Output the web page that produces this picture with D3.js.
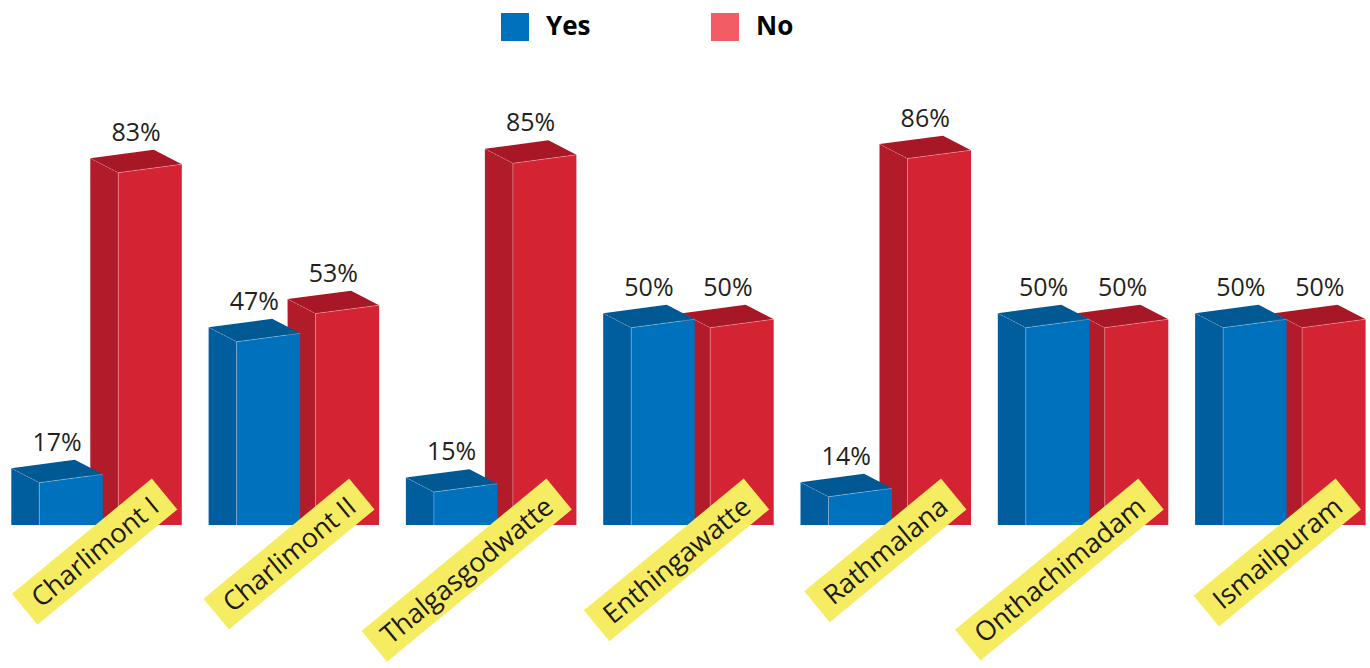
<!DOCTYPE html>
<html>
<head>
<meta charset="utf-8">
<script src="https://cdn.jsdelivr.net/npm/d3@7"></script>
<style>
  html, body { margin: 0; padding: 0; background: #ffffff; }
  svg { display: block; }
</style>
</head>
<body>
<svg id="chart" width="1370" height="668"></svg>
<script>
// Survey answers per settlement (percent of respondents)
const categories = ["Charlimont I", "Charlimont II", "Thalgasgodwatte", "Enthingawatte",
                    "Rathmalana", "Onthachimadam", "Ismailpuram"];
const seriesNames = ["Yes", "No"];
const yesValues = [17, 47, 15, 50, 14, 50, 50];
const noValues  = [83, 53, 85, 50, 86, 50, 50];

const W = 1370, H = 668;
const svg = d3.select("#chart");

// faces of each 3D column
const palette = {
  Yes: { front: "#0071bc", side: "#005e9e", top: "#005992", legend: "#0071bc" },
  No:  { front: "#d42333", side: "#b21b29", top: "#a71726", legend: "#f25c64" }
};
const depthX = -28, depthY = -14.5;   // receding edge of the columns
const tilt = 8.4;                      // rise of the front top edge
const floorY = 525;                    // visible floor line

const x0 = d3.scaleBand().domain(categories)
  .range([39.3, 39.3 + categories.length * 197.3]).paddingInner(0).paddingOuter(0);
const x1 = d3.scaleBand().domain(seriesNames).range([0, 142.5]).paddingInner(0.196).paddingOuter(0);
const y = d3.scaleLinear().domain([0, 100]).range([562.5, 92.8]);

const rows = categories.map((c, i) => ({ cat: c, Yes: yesValues[i], No: noValues[i] }));

svg.append("defs").append("clipPath").attr("id", "floorClip")
  .append("rect").attr("x", 0).attr("y", 0).attr("width", W).attr("height", floorY);

const plot = svg.append("g").attr("clip-path", "url(#floorClip)");
const base = y(0);
const bw = x1.bandwidth();

const groups = plot.selectAll("g.group").data(rows).join("g")
  .attr("class", "group")
  .attr("transform", d => `translate(${x0(d.cat)},0)`);

// draw "No" first so the "Yes" column sits in front of it where they overlap
const bars = groups.selectAll("g.bar")
  .data(d => seriesNames.slice().reverse().map(s => ({ s, v: d[s] })))
  .join("g").attr("class", "bar");

const pts = a => a.map(p => p.join(",")).join(" ");

bars.each(function (d) {
  const g = d3.select(this);
  const xl = x1(d.s), xr = xl + bw, yt = y(d.v);
  const c = palette[d.s];
  // side face
  g.append("polygon").attr("fill", c.side)
    .attr("points", pts([[xl + depthX, yt + depthY], [xl, yt], [xl, base], [xl + depthX, base]]));
  // top face
  g.append("polygon").attr("fill", c.top)
    .attr("points", pts([[xl, yt], [xr, yt - tilt], [xr + depthX, yt - tilt + depthY], [xl + depthX, yt + depthY]]));
  // front face
  g.append("polygon").attr("fill", c.front)
    .attr("points", pts([[xl, yt], [xr, yt - tilt], [xr, base], [xl, base]]));
  // light edges between faces
  g.append("polyline").attr("fill", "none").attr("stroke", "#ffffff").attr("stroke-opacity", 0.35)
    .attr("stroke-width", 0.8)
    .attr("points", pts([[xl, base], [xl, yt], [xr, yt - tilt]]));
  g.append("line").attr("stroke", "#ffffff").attr("stroke-opacity", 0.3).attr("stroke-width", 0.8)
    .attr("stroke-dasharray", "2,1.5")
    .attr("x1", xl + depthX).attr("y1", yt + depthY).attr("x2", xl).attr("y2", yt);
});

// value labels above the columns
const valueLayer = svg.append("g");
rows.forEach(d => {
  seriesNames.forEach(s => {
    const xl = x0(d.cat) + x1(s);
    valueLayer.append("text")
      .attr("x", xl + (depthX + bw) / 2)
      .attr("y", y(d[s]) - tilt + depthY - 9)
      .attr("text-anchor", "middle")
      .attr("font-family", "'Open Sans', sans-serif")
      .attr("font-size", 25)
      .attr("fill", "#231f20")
      .text(d[s] + "%");
  });
});

// rotated yellow category tags
const tagLayer = svg.append("g");
rows.forEach(d => {
  const groupCenter = x0(d.cat) + depthX + (x1.range()[1] - depthX) / 2;
  const tag = tagLayer.append("g")
    .attr("transform", `translate(${groupCenter + 68},${494}) rotate(-39.5)`);
  const rect = tag.append("rect").attr("fill", "#f6ec62");
  const t = tag.append("text")
    .attr("x", -13).attr("y", 0).attr("dy", "0.36em")
    .attr("text-anchor", "end")
    .attr("font-family", "'Open Sans', sans-serif")
    .attr("font-size", 27)
    .attr("fill", "#1f1a17")
    .text(d.cat);
  const len = t.node().getComputedTextLength();
  rect.attr("x", -len - 26).attr("y", -20).attr("width", len + 26).attr("height", 40);
});

// legend
const legend = svg.append("g");
const legendX = { Yes: 501, No: 711 };
seriesNames.forEach(s => {
  legend.append("rect").attr("x", legendX[s]).attr("y", 13).attr("width", 28).attr("height", 28)
    .attr("fill", palette[s].legend);
  legend.append("text").attr("x", legendX[s] + 45).attr("y", 35)
    .attr("font-family", "'Open Sans', sans-serif").attr("font-weight", 700)
    .attr("font-size", 26).attr("fill", "#000000")
    .text(s);
});
</script>
</body>
</html>
